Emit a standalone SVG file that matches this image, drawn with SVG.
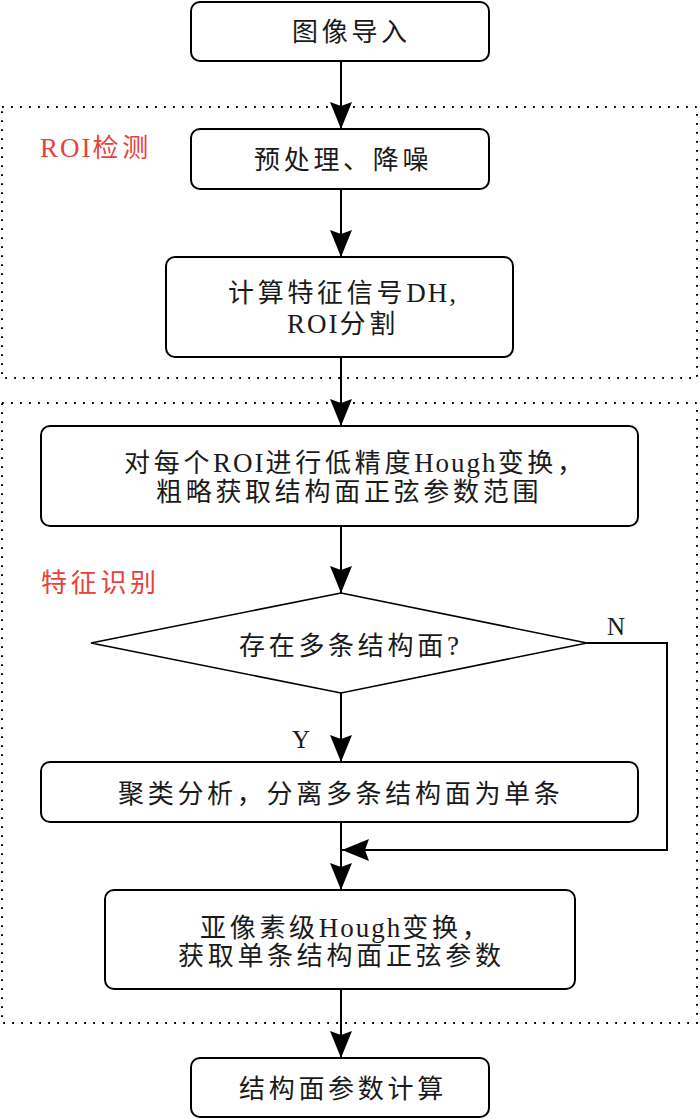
<svg xmlns="http://www.w3.org/2000/svg" width="700" height="1119" viewBox="0 0 700 1119">
<style>
.bg{fill:#ffffff}
.box{fill:#ffffff;stroke:#000;stroke-width:2}
.dia{fill:#ffffff;stroke:#000;stroke-width:1.6}
.grp{fill:none;stroke:#000;stroke-width:2;stroke-dasharray:1.8 7.2}
.con{fill:none;stroke:#000;stroke-width:2}
.t{font-family:"Liberation Serif","Noto Sans CJK SC",serif;font-size:26px;letter-spacing:3.7px;fill:#1a1a1a}
.l{font-size:27px;letter-spacing:2px}
.red{fill:#e8413a}
.lbl{font-family:"Liberation Serif",serif;font-size:25px;fill:#1a1a1a}
</style>
<defs>
<marker id="ah" markerUnits="userSpaceOnUse" markerWidth="30" markerHeight="26" viewBox="-28 -13 30 26" refX="0" refY="0" orient="auto">
<path d="M0,0 L-27,-11 L-23,0 L-27,11 Z" fill="#000"/>
</marker>
</defs>
<rect class="bg" x="0" y="0" width="700" height="1119"/>

<g id="group-roi">
<rect class="grp" x="2" y="107" width="695" height="271"/>
<text class="t red" x="40" y="157"><tspan class="l">ROI</tspan>检测</text>
</g>
<g id="group-feature">
<rect class="grp" x="2" y="403" width="695" height="620"/>
<text class="t red" x="41" y="592">特征识别</text>
</g>

<g id="connectors">
<line class="con" x1="341" y1="61" x2="341" y2="129" marker-end="url(#ah)"/>
<line class="con" x1="341" y1="189" x2="341" y2="257" marker-end="url(#ah)"/>
<line class="con" x1="341" y1="357" x2="341" y2="426" marker-end="url(#ah)"/>
<line class="con" x1="341" y1="526" x2="341" y2="593" marker-end="url(#ah)"/>
<line class="con" x1="341" y1="693" x2="341" y2="762" marker-end="url(#ah)"/>
<polyline class="con" points="587,643 667,643 667,850 342,850" marker-end="url(#ah)"/>
<line class="con" x1="341" y1="822" x2="341" y2="890" marker-end="url(#ah)"/>
<line class="con" x1="341" y1="989" x2="341" y2="1058" marker-end="url(#ah)"/>
<text class="lbl" x="607" y="635">N</text>
<text class="lbl" x="292" y="748">Y</text>
</g>

<g id="n1">
<rect class="box" x="191" y="2" width="298" height="59" rx="9"/>
<text class="t" x="292" y="41">图像导入</text>
</g>
<g id="n2">
<rect class="box" x="191" y="129" width="298" height="60" rx="9"/>
<text class="t" x="254" y="169">预处理、降噪</text>
</g>
<g id="n3">
<rect class="box" x="166" y="257" width="347" height="100" rx="9"/>
<text class="t" x="228" y="302">计算特征信号<tspan class="l">DH,</tspan></text>
<text class="t" x="287" y="333"><tspan class="l">ROI</tspan>分割</text>
</g>
<g id="n4">
<rect class="box" x="41" y="426" width="597" height="100" rx="9"/>
<text class="t" x="124" y="472">对每个<tspan class="l">ROI</tspan>进行低精度<tspan class="l">Hough</tspan>变换，</text>
<text class="t" x="156" y="501">粗略获取结构面正弦参数范围</text>
</g>
<g id="n5">
<polygon class="dia" points="341,593 587,643 341,693 91,643"/>
<text class="t" x="239" y="655">存在多条结构面<tspan class="l">?</tspan></text>
</g>
<g id="n6">
<rect class="box" x="41" y="762" width="597" height="60" rx="9"/>
<text class="t" x="118" y="803">聚类分析，分离多条结构面为单条</text>
</g>
<g id="n7">
<rect class="box" x="105" y="890" width="470" height="99" rx="9"/>
<text class="t" x="200" y="937">亚像素级<tspan class="l">Hough</tspan>变换，</text>
<text class="t" x="178" y="965">获取单条结构面正弦参数</text>
</g>
<g id="n8">
<rect class="box" x="191" y="1058" width="298" height="59" rx="9"/>
<text class="t" x="239" y="1098">结构面参数计算</text>
</g>
</svg>
